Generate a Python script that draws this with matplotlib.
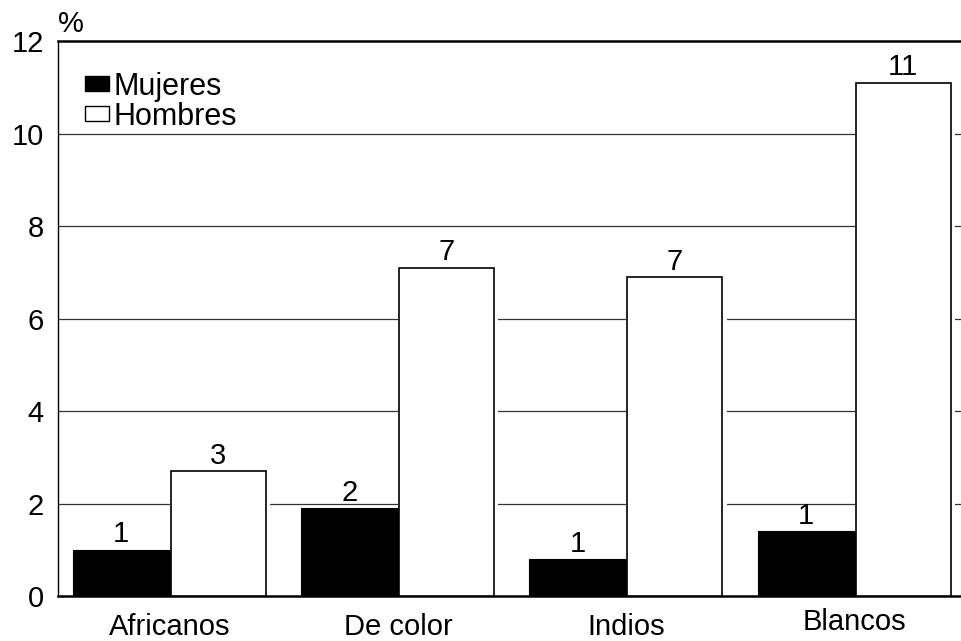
import matplotlib.pyplot as plt
from matplotlib.patches import Patch

plt.rcParams['font.family'] = ['Liberation Sans', 'DejaVu Sans']

categories = ['Africanos', 'De color', 'Indios', 'Blancos']
mujeres = [1.0, 1.9, 0.8, 1.4]
hombres = [2.7, 7.1, 6.9, 11.1]
yticks = [0, 2, 4, 6, 8, 10, 12]

fig = plt.figure(figsize=(9.62, 6.41), dpi=100)
ax = fig.add_axes([0.060, 0.070, 0.940, 0.866])

x = list(range(len(categories)))
w = 0.425
fs = 21

# gridlines
for t in yticks[1:-1]:
    ax.axhline(t, color='#333333', lw=0.9, zorder=0)

xm = [i - w / 2 for i in x]
xh = [i + w / 2 for i in x]

ax.bar(xm, mujeres, width=w, color='black', edgecolor='black', lw=0.8, zorder=2)
# white halo to the right of the open bars (gridlines break there)
ax.bar([v + 0.0075 for v in xh], hombres, width=w + 0.015, color='white', lw=0, zorder=1)
ax.bar(xh, hombres, width=w - 0.01, color='white', edgecolor='black', lw=1.2, zorder=3)

for xi, v in zip(xm, mujeres):
    ax.annotate(f'{v:.0f}', (xi, v), xytext=(0, 1), textcoords='offset points',
                ha='center', va='bottom', fontsize=fs)
for xi, v in zip(xh, hombres):
    ax.annotate(f'{v:.0f}', (xi, v), xytext=(0, 1), textcoords='offset points',
                ha='center', va='bottom', fontsize=fs)

ax.set_xlim(-0.49, 3.47)
ax.set_ylim(0, 12)
ax.set_yticks(yticks)
ax.set_xticks(x)
ax.set_xticklabels(categories)
ax.tick_params(axis='both', length=0, labelsize=fs)
ax.tick_params(axis='y', pad=10)
ax.tick_params(axis='x', pad=12.5)
ax.xaxis.get_major_ticks()[3].set_pad(8.5)

ax.spines['right'].set_visible(False)
ax.spines['top'].set_linewidth(1.8)
ax.spines['bottom'].set_linewidth(1.8)
ax.spines['left'].set_linewidth(1.0)

ax.text(0.0, 1.006, '%', transform=ax.transAxes, fontsize=fs, ha='left', va='bottom')

handles = [Patch(facecolor='black', edgecolor='black'),
           Patch(facecolor='white', edgecolor='black')]
ax.legend(handles, ['Mujeres', 'Hombres'], loc='upper left', bbox_to_anchor=(0.03, 0.945),
          frameon=False, fontsize=fs + 1, handlelength=0.8, handleheight=0.4,
          handletextpad=0.15, labelspacing=0.0, borderpad=0, borderaxespad=0)

fig.savefig('out.png', dpi=100)
